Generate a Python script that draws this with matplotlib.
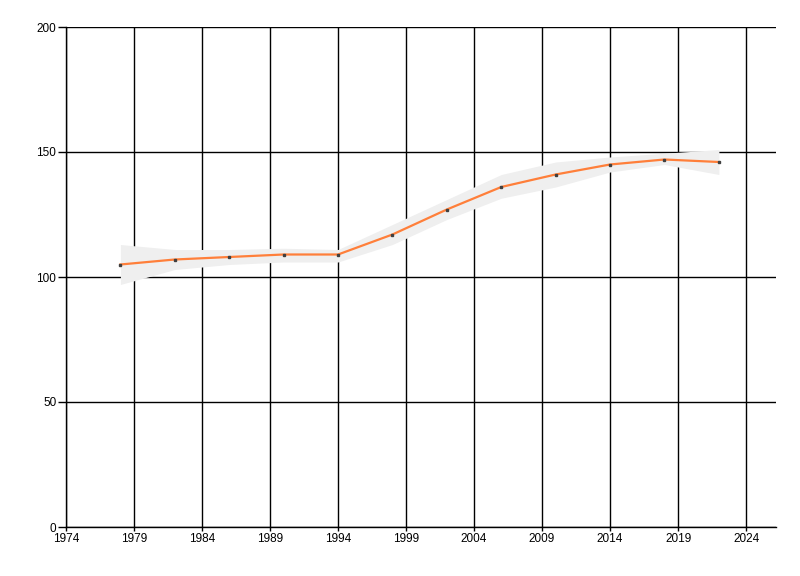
import matplotlib
matplotlib.use('Agg')
import matplotlib.pyplot as plt

# data
years = [1978, 1982, 1986, 1990, 1994, 1998, 2002, 2006, 2010, 2014, 2018, 2022]
values = [105, 107, 108, 109, 109, 117, 127, 136, 141, 145, 147, 146]
band_upper = [113, 111, 111, 111.5, 111, 121, 131, 141, 146, 148, 149.5, 151]
band_lower = [97, 103, 105, 106, 106, 113, 123, 131.5, 136, 142, 145, 141]

x_ticks = list(range(1974, 2025, 5))
y_ticks = [0, 50, 100, 150, 200]

plt.rcParams['font.family'] = ['Liberation Sans', 'DejaVu Sans']

fig = plt.figure(figsize=(8, 5.76), dpi=100)
ax = fig.add_axes([66 / 800, 49 / 576, 710 / 800, 500 / 576])

ax.fill_between(years, band_lower, band_upper, color='#efefef', linewidth=0, zorder=2)
ax.plot(years, values, color='#ff7f3a', linewidth=1.6, zorder=3)
ax.plot(years, values, linestyle='none', marker='s', markersize=2,
        color='#404040', zorder=4)

ax.set_xlim(1974, 2026.2)
ax.set_ylim(0, 200)
ax.set_xticks(x_ticks)
ax.set_yticks(y_ticks)
ax.grid(True, color='black', linewidth=1, zorder=1)
ax.set_axisbelow(True)

for s in ['top', 'right']:
    ax.spines[s].set_visible(False)
for s in ['left', 'bottom']:
    ax.spines[s].set_linewidth(1)

ax.tick_params(axis='both', labelsize=8.5, length=6, width=1, pad=1)
ax.tick_params(axis='x', length=3)

fig.savefig('out.png', dpi=100)
